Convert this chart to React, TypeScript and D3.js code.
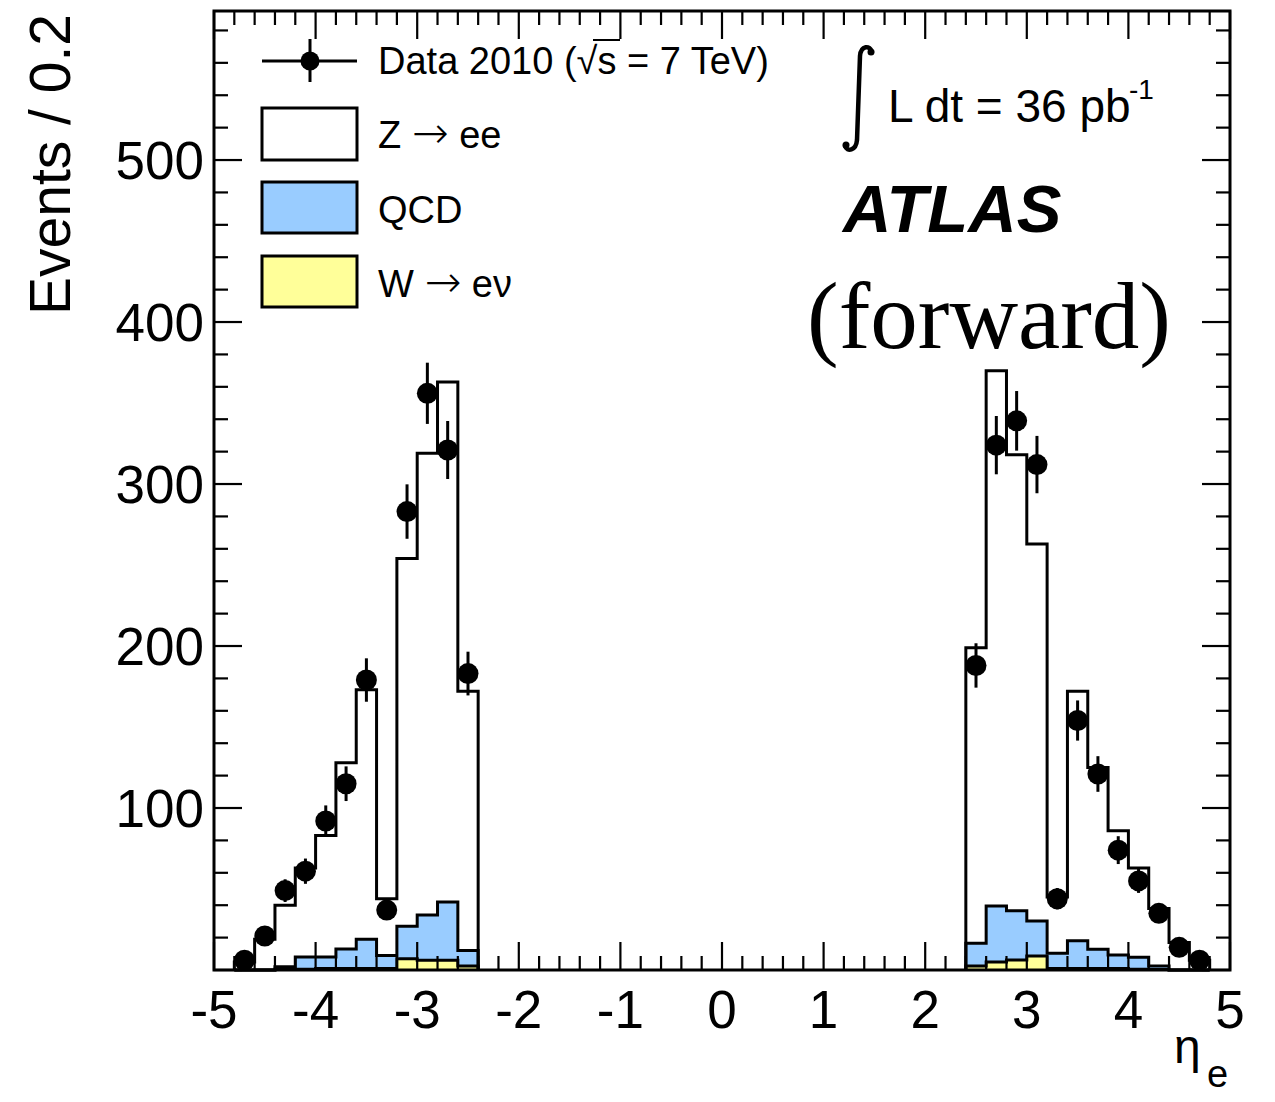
import React from "react";
import * as d3 from "d3";

// ---- data (bin centres in eta, bin width 0.2) ----
const binCenters = [
  -4.7, -4.5, -4.3, -4.1, -3.9, -3.7, -3.5, -3.3, -3.1, -2.9, -2.7, -2.5,
  2.5, 2.7, 2.9, 3.1, 3.3, 3.5, 3.7, 3.9, 4.1, 4.3, 4.5, 4.7,
];
const binWidth = 0.2;
const zee = [
  5, 19, 38, 55, 75, 115, 154, 35, 227, 285, 321, 160,
  182.5, 330.5, 281.4, 232.8, 34.7, 153.9, 112.2, 76.7, 55.2, 35.5, 17, 6,
];
const qcd = [
  0, 0, 1.5, 7.5, 7, 12, 18, 8, 20, 28, 36, 9.5,
  14, 34.6, 30.4, 21.6, 9.3, 17.1, 11.8, 8.3, 7.3, 2.2, 0, 0,
];
const wenu = [
  0, 0, 0.5, 0.5, 1, 1, 1, 1, 7, 6, 6, 2.5,
  2.5, 4.9, 6.2, 8.6, 1, 1, 1, 1, 0.5, 0.3, 0, 0,
];
const data2010 = [
  6, 21, 49, 61, 92, 115, 179, 37, 283, 356, 321, 183,
  188, 324, 339, 312, 44, 154, 121, 74, 55, 35, 14, 6,
];
const dataErr = [
  2.4, 4.6, 7, 7.8, 9.6, 10.7, 13.4, 6.1, 16.8, 18.9, 17.9, 13.5,
  13.7, 18, 18.4, 17.7, 6.6, 12.4, 11, 8.6, 7.4, 5.9, 3.7, 2.4,
];
const xTickValues = [-5, -4, -3, -2, -1, 0, 1, 2, 3, 4, 5];
const xTickLabels = ["-5", "-4", "-3", "-2", "-1", "0", "1", "2", "3", "4", "5"];
const yTickValues = [100, 200, 300, 400, 500];
const yTickLabels = ["100", "200", "300", "400", "500"];

// ---- styling ----
const W = 1275;
const H = 1102;
const M = { left: 214, right: 1230, top: 11, bottom: 970 };
const BLUE = "#99ccff";
const YELLOW = "#ffff99";
const SANS = "'Liberation Sans', Arial, Helvetica, sans-serif";
const SERIF = "'Liberation Serif', 'Times New Roman', serif";
const ARROWFONT = "'DejaVu Sans', sans-serif";

export default function App() {
  const x = d3.scaleLinear().domain([-5, 5]).range([M.left, M.right]);
  const y = d3.scaleLinear().domain([0, 592]).range([M.bottom, M.top]);

  const rows = binCenters.map((c, i) => ({ c, w: wenu[i], qcd: qcd[i], z: zee[i] }));
  const stack = d3.stack<any>().keys(["w", "qcd", "z"]);
  const series = stack(rows);

  // contiguous groups of bins
  const groups: number[][] = [];
  binCenters.forEach((c, i) => {
    if (i === 0 || c - binCenters[i - 1] > binWidth * 1.5) groups.push([i]);
    else groups[groups.length - 1].push(i);
  });

  const area = d3
    .area<{ e: number; lo: number; hi: number }>()
    .curve(d3.curveStepAfter)
    .x((d) => x(d.e))
    .y0((d) => y(d.lo))
    .y1((d) => y(d.hi));
  const line = d3
    .line<{ e: number; v: number }>()
    .curve(d3.curveStepAfter)
    .x((d) => x(d.e))
    .y((d) => y(d.v));

  const fills = ["w", "qcd", "z"].map((k, li) => ({
    key: k,
    color: k === "w" ? YELLOW : k === "qcd" ? BLUE : "#ffffff",
    s: series[li],
  }));

  const areaPaths: { d: string; color: string }[] = [];
  const outlinePaths: string[] = [];
  fills.forEach(({ color, s }) => {
    groups.forEach((g) => {
      const pts = g.map((i) => ({ e: binCenters[i] - binWidth / 2, lo: s[i][0], hi: s[i][1] }));
      const last = g[g.length - 1];
      pts.push({ e: binCenters[last] + binWidth / 2, lo: s[last][0], hi: s[last][1] });
      areaPaths.push({ d: area(pts) as string, color });
      const lp: { e: number; v: number }[] = [{ e: binCenters[g[0]] - binWidth / 2, v: 0 }];
      g.forEach((i) => lp.push({ e: binCenters[i] - binWidth / 2, v: s[i][1] }));
      lp.push({ e: binCenters[last] + binWidth / 2, v: s[last][1] });
      lp.push({ e: binCenters[last] + binWidth / 2, v: 0 });
      outlinePaths.push(line(lp) as string);
    });
  });

  const xMinor = d3.range(-5, 5.0001, 0.2).map((v) => Math.round(v * 10) / 10);
  const yMinor = d3.range(0, 592, 20);
  const majL = 28;
  const minL = 14;

  const legendX0 = 262;
  const legendX1 = 357;
  const legendTextX = 378;

  return (
    <svg
      width={W}
      height={H}
      style={{ position: "absolute", left: 0, top: 0, background: "#fff" }}
      fontFamily={SANS}
    >
      <rect x={0} y={0} width={W} height={H} fill="#fff" />
      {/* histogram fills */}
      {areaPaths.map((p, i) => (
        <path key={"a" + i} d={p.d} fill={p.color} stroke="none" />
      ))}
      {/* outlines */}
      {outlinePaths.map((d, i) => (
        <path key={"o" + i} d={d} fill="none" stroke="#000" strokeWidth={3} />
      ))}

      {/* ticks */}
      <g stroke="#000" strokeWidth={2.2}>
        {xMinor.map((v) => {
          const isMaj = Math.abs(v - Math.round(v)) < 1e-6;
          const L = isMaj ? majL : minL;
          return (
            <g key={"xt" + v}>
              <line x1={x(v)} x2={x(v)} y1={M.bottom} y2={M.bottom - L} />
              <line x1={x(v)} x2={x(v)} y1={M.top} y2={M.top + L} />
            </g>
          );
        })}
        {yMinor.map((v) => {
          const L = v % 100 === 0 ? majL : minL;
          return (
            <g key={"yt" + v}>
              <line x1={M.left} x2={M.left + L} y1={y(v)} y2={y(v)} />
              <line x1={M.right} x2={M.right - L} y1={y(v)} y2={y(v)} />
            </g>
          );
        })}
      </g>

      {/* data points */}
      {data2010.map((d, i) => (
        <g key={"d" + i}>
          <line
            x1={x(binCenters[i])}
            x2={x(binCenters[i])}
            y1={y(d - dataErr[i])}
            y2={y(d + dataErr[i])}
            stroke="#000"
            strokeWidth={3}
          />
          <circle cx={x(binCenters[i])} cy={y(d)} r={10.5} fill="#000" />
        </g>
      ))}

      {/* frame */}
      <rect
        x={M.left}
        y={M.top}
        width={M.right - M.left}
        height={M.bottom - M.top}
        fill="none"
        stroke="#000"
        strokeWidth={3}
      />

      {/* tick labels */}
      {xTickValues.map((v, i) => (
        <text key={"xl" + v} x={x(v)} y={1028} fontSize={53} textAnchor="middle" fill="#000">
          {xTickLabels[i]}
        </text>
      ))}
      {yTickValues.map((v, i) => (
        <text key={"yl" + v} x={204} y={y(v) + 19} fontSize={53} textAnchor="end" fill="#000">
          {yTickLabels[i]}
        </text>
      ))}

      {/* axis titles */}
      <text transform="translate(70,14) rotate(-90)" fontSize={57} textAnchor="end" fill="#000">
        Events / 0.2
      </text>
      <text x={1174} y={1063} fontSize={48} fill="#000">
        {"\u03B7"}
      </text>
      <text x={1207} y={1087} fontSize={38} fill="#000">
        e
      </text>

      {/* legend */}
      <g>
        <line x1={legendX0} x2={legendX1} y1={61} y2={61} stroke="#000" strokeWidth={3} />
        <line x1={310} x2={310} y1={39} y2={82} stroke="#000" strokeWidth={3} />
        <circle cx={310} cy={61} r={9.5} fill="#000" />
        <text x={legendTextX} y={74} fontSize={38} fill="#000">
          {"Data 2010 (\u221As = 7 TeV)"}
        </text>
        <line x1={593} x2={620} y1={40} y2={40} stroke="#000" strokeWidth={2} />

        <rect x={legendX0} y={108} width={legendX1 - legendX0} height={52} fill="#fff" stroke="#000" strokeWidth={3} />
        <text x={legendTextX} y={148} fontSize={38} fill="#000">
          {"Z "}
          <tspan fontFamily={ARROWFONT} fontSize={44} fontWeight={300}>{"\u2192"}</tspan>
          {" ee"}
        </text>
        <rect x={legendX0} y={182} width={legendX1 - legendX0} height={51} fill={BLUE} stroke="#000" strokeWidth={3} />
        <text x={legendTextX} y={223} fontSize={38} fill="#000">
          QCD
        </text>
        <rect x={legendX0} y={256} width={legendX1 - legendX0} height={51} fill={YELLOW} stroke="#000" strokeWidth={3} />
        <text x={legendTextX} y={297} fontSize={38} fill="#000">
          {"W "}
          <tspan fontFamily={ARROWFONT} fontSize={44} fontWeight={300}>{"\u2192"}</tspan>
          {" e\u03BD"}
        </text>
      </g>

      {/* luminosity */}
      <path
        d="M872,52 C870,45 861,45 860,56 L857,140 C856,151 847,152 845,146"
        fill="none"
        stroke="#000"
        strokeWidth={4.5}
        strokeLinecap="round"
      />
      <circle cx={871} cy={52} r={3.5} fill="#000" />
      <circle cx={846} cy={145} r={3.5} fill="#000" />
      <text x={888} y={122} fontSize={46} fill="#000">
        L dt = 36 pb
      </text>
      <text x={1129} y={99} fontSize={28} fill="#000">
        -1
      </text>

      <text x={843} y={232} fontSize={67} fontWeight="bold" fontStyle="italic" fill="#000">
        ATLAS
      </text>
      <text x={807} y={348} fontSize={95} fontFamily={SERIF} fill="#000">
        (forward)
      </text>
    </svg>
  );
}
